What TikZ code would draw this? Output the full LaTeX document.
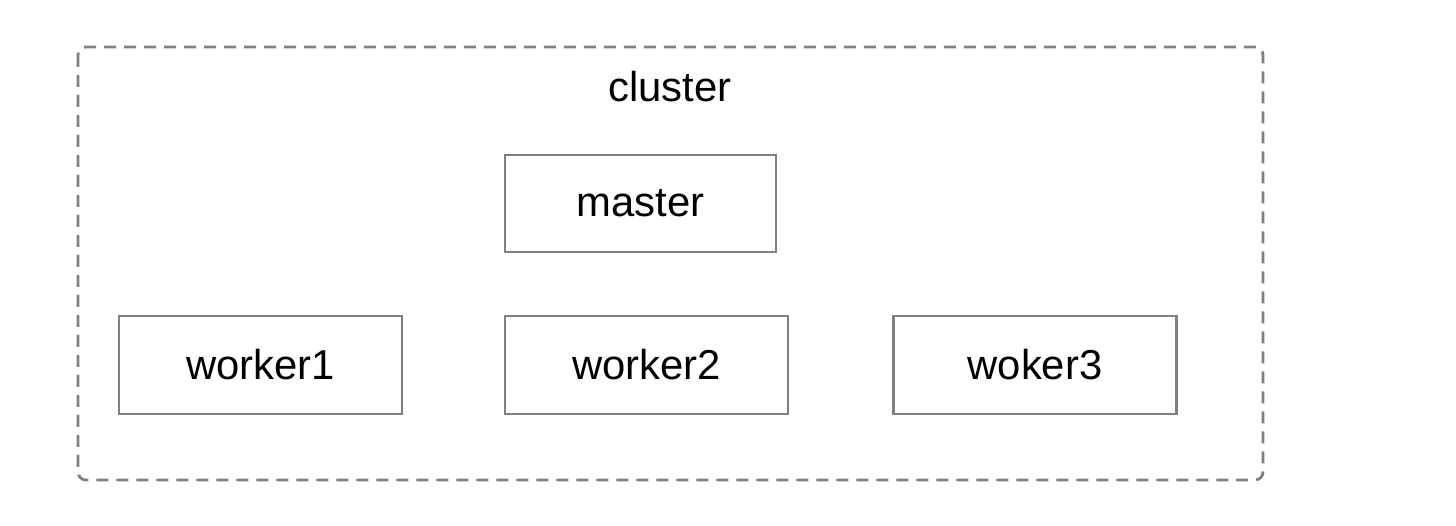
\documentclass[tikz,border=0pt]{standalone}
\usepackage{fontspec}
\setmainfont{Liberation Sans}
\usepackage{xcolor}
\usetikzlibrary{positioning}

\definecolor{boxgray}{HTML}{808080}

\begin{document}
\begin{tikzpicture}[
    x=0.02cm, y=-0.02cm,
    unit/.style={rectangle, draw=boxgray, line width=1.2pt, fill=white, minimum width=5.66cm, minimum height=1.96cm, font=\fontsize{23.8}{28}\selectfont, inner sep=0pt},
    group/.style={draw=boxgray, line width=1.6pt, dash pattern=on 0.24cm off 0.16cm, rounded corners=0.16cm},
]
    \useasboundingbox (0,0) rectangle (1456,526);

    % Cluster frame
    \draw[group] (78,47) rectangle (1263,480);
    \node[font=\fontsize{23.8}{28}\selectfont] (cluster) at (670,87) {cluster};

    % Master node
    \node[unit, minimum width=5.42cm, minimum height=1.94cm] (master) at (640.5,203.5) {master};

    % Worker nodes
    \node[unit] (worker1) at (260.5,365) {worker1};
    \node[unit] (worker2) at (646.5,365) {worker2};
    \node[unit] (worker3) at (1035,365) {woker3};
\end{tikzpicture}
\end{document}
